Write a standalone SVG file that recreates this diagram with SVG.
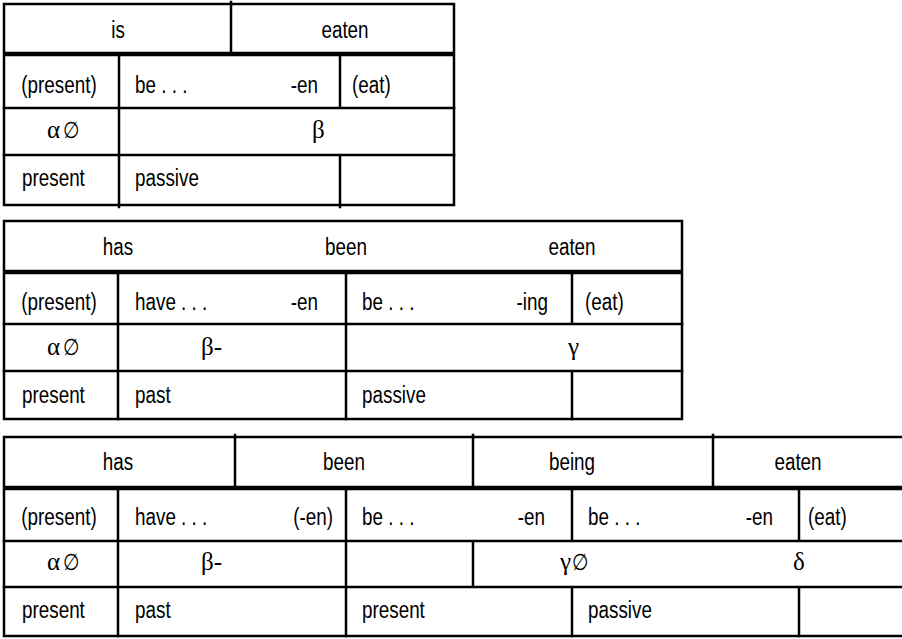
<svg xmlns="http://www.w3.org/2000/svg" width="902" height="639" viewBox="0 0 902 639">
<style>
.bg{fill:#ffffff}
.ln{stroke:#000;stroke-width:2.5;fill:none;stroke-linecap:square}
.thk{stroke:#000;stroke-width:4.5;fill:none}
.t{font-family:"Liberation Sans Narrow","Liberation Sans",Arial,sans-serif;font-size:23px;fill:#000}
.m{text-anchor:middle}
.e{text-anchor:end}
.g{font-family:"Liberation Serif","DejaVu Serif",serif;font-size:25px;fill:#000}
</style>
<rect class="bg" x="0" y="0" width="902" height="639"/>

<g id="table1">
<g class="lines">
<rect class="ln" x="4" y="4" width="450" height="201"/>
<path class="thk" d="M4 54H454"/>
<path class="ln" d="M4 108H454M4 155H454M231 2V54M119 54V108M340 54V108M119 108V155M119 155V207M340 155V207"/>
</g>
<text class="t m" transform="matrix(0.82 0 0 1 118 38)">is</text>
<text class="t m" transform="matrix(0.82 0 0 1 345 38)">eaten</text>
<text class="t m" transform="matrix(0.82 0 0 1 59 93)">(present)</text>
<text class="t" transform="matrix(0.82 0 0 1 135 93)">be . . .</text>
<text class="t e" transform="matrix(0.82 0 0 1 318 93)">-en</text>
<text class="t" transform="matrix(0.82 0 0 1 352 93)">(eat)</text>
<text class="g" x="47" y="138">α</text>
<text class="t" transform="matrix(0.82 0 0 1 63 138)">∅</text>
<text class="g" x="312" y="138">β</text>
<text class="t" transform="matrix(0.82 0 0 1 22 186)">present</text>
<text class="t" transform="matrix(0.82 0 0 1 135 186)">passive</text>
</g>

<g id="table2">
<g class="lines">
<rect class="ln" x="4" y="221" width="678" height="198"/>
<path class="thk" d="M4 272H682"/>
<path class="ln" d="M4 324H682M4 371H682M118 272V324M346 272V324M572 272V324M118 324V371M346 324V371M118 371V419M346 371V419M572 371V419"/>
</g>
<text class="t m" transform="matrix(0.82 0 0 1 118 255)">has</text>
<text class="t m" transform="matrix(0.82 0 0 1 346 255)">been</text>
<text class="t m" transform="matrix(0.82 0 0 1 572 255)">eaten</text>
<text class="t m" transform="matrix(0.82 0 0 1 59 310)">(present)</text>
<text class="t" transform="matrix(0.82 0 0 1 135 310)">have . . .</text>
<text class="t e" transform="matrix(0.82 0 0 1 318 310)">-en</text>
<text class="t" transform="matrix(0.82 0 0 1 362 310)">be . . .</text>
<text class="t e" transform="matrix(0.82 0 0 1 548 310)">-ing</text>
<text class="t" transform="matrix(0.82 0 0 1 585 310)">(eat)</text>
<text class="g" x="47" y="355">α</text>
<text class="t" transform="matrix(0.82 0 0 1 63 355)">∅</text>
<text class="g" x="201" y="355">β-</text>
<text class="g" x="568" y="355">γ</text>
<text class="t" transform="matrix(0.82 0 0 1 22 403)">present</text>
<text class="t" transform="matrix(0.82 0 0 1 135 403)">past</text>
<text class="t" transform="matrix(0.82 0 0 1 362 403)">passive</text>
</g>

<g id="table3">
<g class="lines">
<path class="ln" d="M905 437H4V636H905"/>
<path class="thk" d="M4 488H905"/>
<path class="ln" d="M4 541H905M4 587H905M235 435V488M473 435V488M713 435V488M118 488V541M346 488V541M572 488V541M799 488V541M118 541V587M346 541V587M473 541V587M118 587V636M346 587V636M572 587V636M799 587V636"/>
</g>
<text class="t m" transform="matrix(0.82 0 0 1 118 470)">has</text>
<text class="t m" transform="matrix(0.82 0 0 1 344 470)">been</text>
<text class="t m" transform="matrix(0.82 0 0 1 572 470)">being</text>
<text class="t m" transform="matrix(0.82 0 0 1 798 470)">eaten</text>
<text class="t m" transform="matrix(0.82 0 0 1 59 525)">(present)</text>
<text class="t" transform="matrix(0.82 0 0 1 135 525)">have . . .</text>
<text class="t e" transform="matrix(0.82 0 0 1 333 525)">(-en)</text>
<text class="t" transform="matrix(0.82 0 0 1 362 525)">be . . .</text>
<text class="t e" transform="matrix(0.82 0 0 1 545 525)">-en</text>
<text class="t" transform="matrix(0.82 0 0 1 588 525)">be . . .</text>
<text class="t e" transform="matrix(0.82 0 0 1 773 525)">-en</text>
<text class="t" transform="matrix(0.82 0 0 1 808 525)">(eat)</text>
<text class="g" x="47" y="570">α</text>
<text class="t" transform="matrix(0.82 0 0 1 63 570)">∅</text>
<text class="g" x="201" y="570">β-</text>
<text class="g" x="560" y="570">γ</text>
<text class="t" transform="matrix(0.82 0 0 1 572 570)">∅</text>
<text class="g" x="793" y="570">δ</text>
<text class="t" transform="matrix(0.82 0 0 1 22 618)">present</text>
<text class="t" transform="matrix(0.82 0 0 1 135 618)">past</text>
<text class="t" transform="matrix(0.82 0 0 1 362 618)">present</text>
<text class="t" transform="matrix(0.82 0 0 1 588 618)">passive</text>
</g>
</svg>
